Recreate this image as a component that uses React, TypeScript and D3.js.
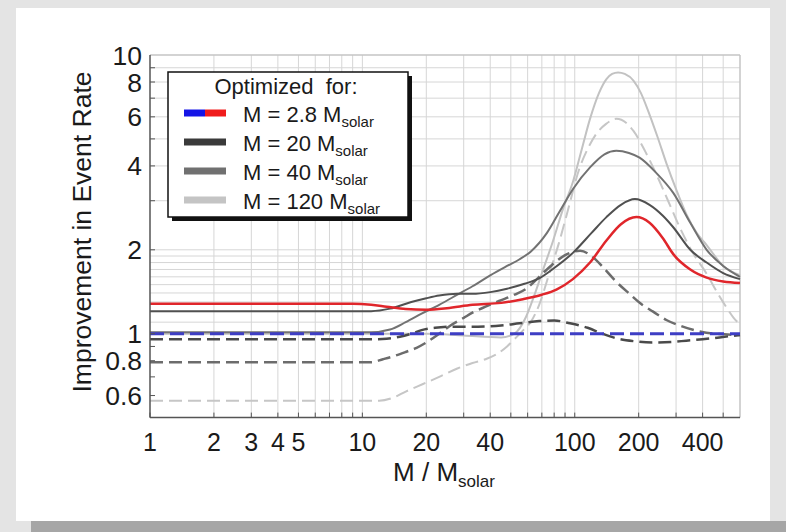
import React from "react";
import * as d3 from "d3";

// ---------- data ----------
const xTickLabels = [1, 2, 3, 4, 5, 10, 20, 40, 100, 200, 400];
const yTickLabels = [10, 8, 6, 4, 2, 1, 0.8, 0.6];
const yGridValues = [1.1, 1.2, 1.3, 1.4, 1.5, 1.6, 1.7, 1.8, 1.9, 2, 3, 4, 5, 6, 7, 8, 9];
const yMinorTicks = [0.6, 0.7, 0.8, 0.9, 1, 2, 3, 4, 5, 6, 7, 8, 9];
const legendMasses = ["2.8", "20", "40", "120"];

// M = 2.8 (red solid, blue dashed)
const redX = [1, 9, 11, 13, 16, 20, 25, 33, 45, 57, 70, 82, 98, 118, 141, 165, 195, 225, 260, 291, 350, 418, 500, 600];
const redY = [1.28, 1.28, 1.27, 1.25, 1.226, 1.22, 1.235, 1.27, 1.29, 1.33, 1.38, 1.44, 1.57, 1.8, 2.16, 2.47, 2.62, 2.5, 2.2, 1.93, 1.7, 1.59, 1.54, 1.52];
const blueX = [1, 600];
const blueY = [1.0, 1.0];

// M = 20 (dark gray)
const darkSolidX = [1, 11, 13.5, 17, 20, 23, 28, 33, 40, 48, 58, 68, 80, 98, 120, 141, 165, 192, 225, 260, 291, 350, 418, 500, 600];
const darkSolidY = [1.205, 1.205, 1.23, 1.3, 1.34, 1.37, 1.39, 1.39, 1.41, 1.45, 1.51, 1.58, 1.72, 1.95, 2.3, 2.62, 2.9, 3.04, 2.9, 2.65, 2.41, 2.0, 1.8, 1.65, 1.57];
const darkDashX = [1, 11, 13, 15, 17, 19, 22, 27, 35, 45, 55, 68, 80, 95, 115, 135, 155, 190, 234, 290, 335, 400, 480, 600];
const darkDashY = [0.955, 0.955, 0.96, 0.975, 1.0, 1.03, 1.05, 1.06, 1.06, 1.07, 1.09, 1.11, 1.115, 1.09, 1.05, 1.0, 0.965, 0.94, 0.93, 0.935, 0.944, 0.955, 0.97, 0.99];

// M = 40 (mid gray)
const midSolidX = [1, 11, 13.5, 16, 19, 23, 28, 33, 40, 48, 55, 62, 74, 85, 98, 118, 138, 157, 180, 202, 240, 291, 350, 418, 500, 600];
const midSolidY = [1.012, 1.012, 1.035, 1.1, 1.18, 1.27, 1.38, 1.48, 1.62, 1.75, 1.85, 1.97, 2.3, 2.75, 3.3, 3.95, 4.4, 4.53, 4.45, 4.28, 3.8, 3.2, 2.5, 2.0, 1.75, 1.6];
const midDashX = [1, 11, 12.5, 14, 16, 18, 20, 23, 26, 30, 33, 38, 44, 52, 59, 68, 79, 92, 106, 120, 136, 155, 181, 205, 234, 270, 312, 374, 450, 600];
const midDashY = [0.79, 0.79, 0.81, 0.83, 0.86, 0.89, 0.93, 1.0, 1.07, 1.14, 1.19, 1.25, 1.31, 1.38, 1.45, 1.6, 1.78, 1.93, 1.985, 1.9, 1.73, 1.55, 1.39, 1.28, 1.2, 1.12, 1.07, 1.025, 1.0, 0.99];

// M = 120 (light gray)
const lightSolidX = [1, 20, 30, 45, 52, 59, 64, 71, 79, 88, 98, 108, 118, 130, 141, 150, 160, 172, 189, 205, 220, 245, 271, 300, 335, 375, 418, 500, 600];
const lightSolidY = [1.0, 1.0, 0.985, 0.97, 1.0, 1.15, 1.35, 1.7, 2.15, 2.8, 3.5, 4.6, 5.9, 7.3, 8.2, 8.55, 8.66, 8.55, 8.1, 7.3, 6.4, 5.1, 4.06, 3.3, 2.69, 2.3, 2.08, 1.75, 1.62];
const lightDashX = [1, 12, 14, 16, 19.3, 23, 28, 33, 38, 43, 48, 53, 58, 62, 68, 76, 84, 92, 105, 115, 126, 140, 157, 175, 189, 215, 242, 275, 312, 360, 418, 470, 519, 560, 600];
const lightDashY = [0.575, 0.575, 0.59, 0.62, 0.66, 0.7, 0.75, 0.785, 0.81, 0.845, 0.9, 0.97, 1.04, 1.1, 1.27, 1.65, 2.1, 2.7, 3.9, 4.6, 5.2, 5.65, 5.9, 5.7, 5.34, 4.5, 3.74, 3.0, 2.41, 1.95, 1.64, 1.4, 1.24, 1.14, 1.08];

// ---------- layout ----------
const W = 786;
const H = 532;
const FONT = "'Liberation Sans', Arial, Helvetica, sans-serif";
const plot = { left: 150, right: 740, top: 55, bottom: 417.6 };

const x = d3.scaleLog().domain([1, 600]).range([plot.left, plot.right]);
const y = d3.scaleLog().domain([0.5, 10]).range([plot.bottom, plot.top]);

const line = d3
  .line<[number, number]>()
  .x((d) => x(d[0]))
  .y((d) => y(d[1]))
  .curve(d3.curveMonotoneX);

const zip = (xs: number[], ys: number[]): [number, number][] => xs.map((v, i) => [v, ys[i]]);

type S = { xs: number[]; ys: number[]; color: string; width: number; dash?: string };
const series: S[] = [
  { xs: lightDashX, ys: lightDashY, color: "#c6c6c6", width: 2, dash: "13 6" },
  { xs: lightSolidX, ys: lightSolidY, color: "#c2c2c2", width: 2 },
  { xs: midDashX, ys: midDashY, color: "#6c6c6c", width: 2.5, dash: "13 6" },
  { xs: midSolidX, ys: midSolidY, color: "#727272", width: 2 },
  { xs: darkDashX, ys: darkDashY, color: "#4a4a4a", width: 2.5, dash: "13 6" },
  { xs: darkSolidX, ys: darkSolidY, color: "#505050", width: 2 },
  { xs: redX, ys: redY, color: "#e0262b", width: 2.5 },
  { xs: blueX, ys: blueY, color: "#3e3ec4", width: 3, dash: "14 6" },
];

const legendColors = [null, "#3a3a3a", "#707070", "#c4c4c4"];

export default function App() {
  const xGrid: number[] = [];
  [1, 10, 100].forEach((d) => {
    for (let k = 1; k <= 9; k++) {
      const v = d * k;
      if (v > 1 && v < 600) xGrid.push(v);
    }
  });
  const xMinor = [1, ...xGrid];

  const legX = 168;
  const legY = 72;
  const legW = 240;
  const legH = 145;

  return (
    <div style={{ position: "fixed", left: 0, top: 0, width: W, height: H }}>
      <svg width={W} height={H} style={{ display: "block" }} fontFamily={FONT}>
        <rect x={0} y={0} width={W} height={H} fill="#e4e4e4" />
        <rect x={16} y={8} width={754} height={513} fill="#ffffff" />
        <rect x={31} y={521} width={W - 31} height={11} fill="#a6a6a6" />

        {/* grid */}
        {xGrid.map((v) => (
          <line key={"vx" + v} x1={x(v)} x2={x(v)} y1={plot.top} y2={plot.bottom} stroke="#d6d6d6" strokeWidth={1} />
        ))}
        {yGridValues.map((v) => (
          <line key={"hy" + v} x1={plot.left} x2={plot.right} y1={y(v)} y2={y(v)} stroke="#d6d6d6" strokeWidth={1} />
        ))}

        {/* frame */}
        <line x1={plot.left} x2={plot.right} y1={plot.top} y2={plot.top} stroke="#c4c4c4" strokeWidth={1.5} />
        <line x1={plot.right} x2={plot.right} y1={plot.top} y2={plot.bottom} stroke="#c4c4c4" strokeWidth={1.5} />

        {/* series */}
        {series.map((s, i) => (
          <path
            key={"s" + i}
            d={line(zip(s.xs, s.ys)) || ""}
            fill="none"
            stroke={s.color}
            strokeWidth={s.width}
            strokeDasharray={s.dash}
          />
        ))}

        {/* axes */}
        <line x1={plot.left} x2={plot.left} y1={plot.top} y2={plot.bottom} stroke="#555" strokeWidth={1.5} />
        <line x1={plot.left} x2={plot.right} y1={plot.bottom} y2={plot.bottom} stroke="#555" strokeWidth={1.5} />
        {xMinor.map((v) => (
          <line key={"tx" + v} x1={x(v)} x2={x(v)} y1={plot.bottom} y2={plot.bottom - 5} stroke="#555" strokeWidth={1} />
        ))}
        {yMinorTicks.map((v) => (
          <line key={"ty" + v} x1={plot.left} x2={plot.left + 5} y1={y(v)} y2={y(v)} stroke="#555" strokeWidth={1} />
        ))}

        {xTickLabels.map((v) => (
          <text key={"lx" + v} x={x(v)} y={451} textAnchor="middle" fontSize={25} fill="#1a1a1a">
            {v}
          </text>
        ))}
        {yTickLabels.map((v) => (
          <text key={"ly" + v} x={142} y={y(v) + 9.5} textAnchor="end" fontSize={26.5} fill="#1a1a1a">
            {v}
          </text>
        ))}

        {/* axis titles */}
        <text transform="translate(91,232) rotate(-90)" textAnchor="middle" fontSize={26.5} fill="#1a1a1a">
          Improvement in Event Rate
        </text>
        <text x={444} y={481} textAnchor="middle" fontSize={26} fill="#1a1a1a">
          M / M
          <tspan fontSize={17} dy={6}>
            solar
          </tspan>
        </text>

        {/* legend */}
        <rect x={legX + 4} y={legY + 4} width={legW} height={legH} fill="#111" />
        <rect x={legX} y={legY} width={legW} height={legH} fill="#ffffff" stroke="#111" strokeWidth={1.5} />
        <text x={286} y={94} textAnchor="middle" fontSize={22} fill="#1a1a1a" style={{ whiteSpace: "pre" }}>
          {"Optimized  for:"}
        </text>
        {legendMasses.map((m, i) => {
          const ry = 113 + i * 29;
          return (
            <g key={"lg" + m}>
              {i === 0 ? (
                <>
                  <line x1={184} x2={205} y1={ry} y2={ry} stroke="#1414e6" strokeWidth={7} />
                  <line x1={205} x2={226} y1={ry} y2={ry} stroke="#f01c1c" strokeWidth={7} />
                </>
              ) : (
                <line x1={184} x2={226} y1={ry} y2={ry} stroke={legendColors[i] as string} strokeWidth={7} />
              )}
              <text x={243} y={ry + 9} fontSize={22} fill="#1a1a1a">
                {"M = " + m + " M"}
                <tspan fontSize={15} dy={5}>
                  solar
                </tspan>
              </text>
            </g>
          );
        })}
      </svg>
    </div>
  );
}
